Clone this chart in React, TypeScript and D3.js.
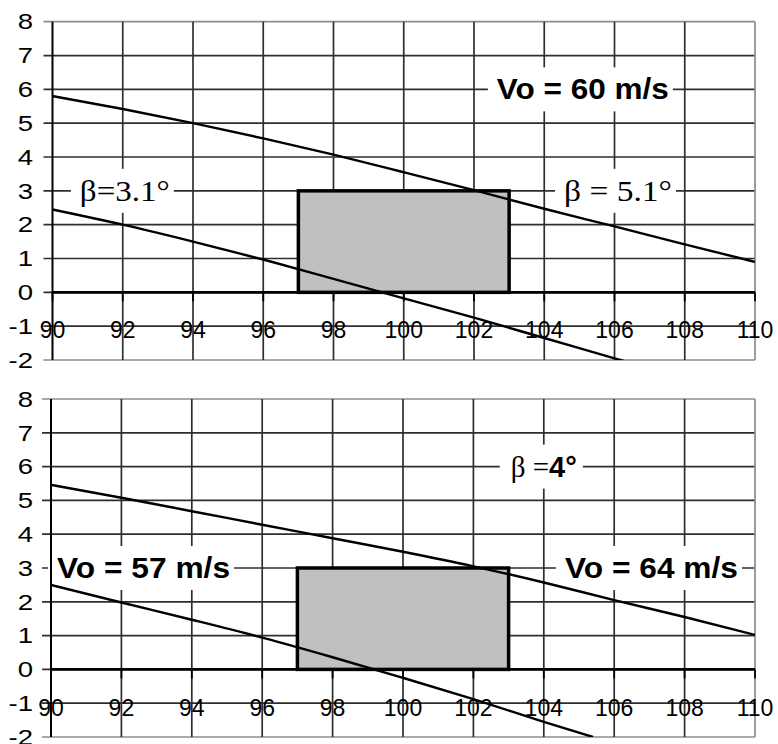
import { useEffect, useRef } from 'react';
import * as d3 from 'd3';

const xTicks = [90, 92, 94, 96, 98, 100, 102, 104, 106, 108, 110];
const yTicks = [-2, -1, 0, 1, 2, 3, 4, 5, 6, 7, 8];

// upper panel (Vo = 60 m/s)
const topUpperX = [90, 92, 94, 96, 98, 100, 102, 104, 106, 108, 110];
const topUpperY = [5.8, 5.42, 5.0, 4.55, 4.07, 3.55, 3.02, 2.47, 1.95, 1.42, 0.9];
const topLowerX = [90, 92, 94, 96, 98, 100, 102, 104, 106, 106.3];
const topLowerY = [2.45, 2.0, 1.5, 0.97, 0.4, -0.18, -0.75, -1.35, -1.95, -2.04];

// lower panel (beta = 4)
const botUpperX = [90, 92, 94, 96, 98, 100, 102, 104, 106, 108, 110];
const botUpperY = [5.46, 5.08, 4.68, 4.28, 3.88, 3.48, 3.05, 2.57, 2.05, 1.55, 1.02];
const botLowerX = [90, 92, 94, 96, 98, 100, 102, 104, 105.4];
const botLowerY = [2.5, 1.98, 1.47, 0.94, 0.36, -0.25, -0.88, -1.55, -2.0];

// target window
const boxX = [97, 103];
const boxY = [0, 3];

type Label = { parts: { t: string; serif: boolean }[]; x: number; y: number; len?: number };

const topLabels: Label[] = [
  { parts: [{ t: 'Vo = 60 m/s', serif: false }], x: 105.1, y: 6, len: 172 },
  { parts: [{ t: 'β = 5.1°', serif: true }], x: 106.1, y: 3, len: 108 },
  { parts: [{ t: 'β=3.1°', serif: true }], x: 92.06, y: 3, len: 90 },
];
const botLabels: Label[] = [
  { parts: [{ t: 'β =', serif: true }, { t: '4°', serif: false }], x: 104.0, y: 6 },
  { parts: [{ t: 'Vo = 64 m/s', serif: false }], x: 107.06, y: 3, len: 173 },
  { parts: [{ t: 'Vo = 57 m/s', serif: false }], x: 92.63, y: 3, len: 173 },
];

const SANS = '"Liberation Sans", Arial, sans-serif';
const SERIF = '"Liberation Serif", "Times New Roman", serif';

type Panel = {
  id: string;
  xRange: [number, number];
  yRange: [number, number];
  series: { xs: number[]; ys: number[] }[];
  labels: Label[];
};

const panels: Panel[] = [
  {
    id: 'top',
    xRange: [52.5, 755],
    yRange: [360, 21.7],
    series: [
      { xs: topUpperX, ys: topUpperY },
      { xs: topLowerX, ys: topLowerY },
    ],
    labels: topLabels,
  },
  {
    id: 'bot',
    xRange: [51, 755],
    yRange: [737, 399],
    series: [
      { xs: botUpperX, ys: botUpperY },
      { xs: botLowerX, ys: botLowerY },
    ],
    labels: botLabels,
  },
];

const App = () => {
  const svgRef = useRef<SVGSVGElement>(null);

  useEffect(() => {
    const svg = d3.select(svgRef.current);
    svg.selectAll('*').remove();

    panels.forEach((p) => {
      const x = d3.scaleLinear().domain([90, 110]).range(p.xRange);
      const y = d3.scaleLinear().domain([-2, 8]).range(p.yRange);
      const g = svg.append('g');

      g.append('clipPath').attr('id', `clip-${p.id}`)
        .append('rect')
        .attr('x', x(90)).attr('y', y(8))
        .attr('width', x(110) - x(90)).attr('height', y(-2) - y(8));

      // grid
      g.append('g').selectAll('line').data(yTicks).join('line')
        .attr('x1', x(90) - 9).attr('x2', x(110))
        .attr('y1', (d) => y(d)).attr('y2', (d) => y(d))
        .attr('stroke', (d) => (d === 8 || d === -2 ? '#8c8c8c' : '#2e2e2e'))
        .attr('stroke-width', 1.7);
      g.append('g').selectAll('line').data(xTicks.slice(1)).join('line')
        .attr('x1', (d) => x(d)).attr('x2', (d) => x(d))
        .attr('y1', y(8)).attr('y2', y(-2))
        .attr('stroke', (d) => (d === 110 ? '#8c8c8c' : '#2e2e2e'))
        .attr('stroke-width', 1.7);

      // label backgrounds
      g.append('g').selectAll('rect').data(p.labels).join('rect')
        .attr('x', (d) => x(d.x) - (d.len ?? 70) / 2 - 9)
        .attr('y', (d) => y(d.y) - 22)
        .attr('width', (d) => (d.len ?? 70) + 13)
        .attr('height', 44)
        .attr('fill', '#fff');

      // window box
      g.append('rect')
        .attr('x', x(boxX[0])).attr('y', y(boxY[1]))
        .attr('width', x(boxX[1]) - x(boxX[0]))
        .attr('height', y(boxY[0]) - y(boxY[1]))
        .attr('fill', '#c0c0c0')
        .attr('stroke', '#000')
        .attr('stroke-width', 3.5);

      // axes
      g.append('line')
        .attr('x1', x(90)).attr('x2', x(90)).attr('y1', y(8)).attr('y2', y(-2))
        .attr('stroke', '#000').attr('stroke-width', 2);
      g.append('line')
        .attr('x1', x(90)).attr('x2', x(110)).attr('y1', y(0)).attr('y2', y(0))
        .attr('stroke', '#000').attr('stroke-width', 2.6);
      g.append('g').selectAll('line').data(xTicks).join('line')
        .attr('x1', (d) => x(d)).attr('x2', (d) => x(d))
        .attr('y1', y(0)).attr('y2', y(0) + 9)
        .attr('stroke', '#000').attr('stroke-width', 1.8);

      // curves
      const line = d3.line<[number, number]>()
        .x((d) => x(d[0])).y((d) => y(d[1]))
        .curve(d3.curveMonotoneX);
      g.append('g').attr('clip-path', `url(#clip-${p.id})`)
        .selectAll('path').data(p.series).join('path')
        .attr('d', (s) => line(s.xs.map((v, i) => [v, s.ys[i]] as [number, number])))
        .attr('fill', 'none')
        .attr('stroke', '#000')
        .attr('stroke-width', 2.4);

      // tick labels
      g.append('g').selectAll('text').data(yTicks).join('text')
        .attr('transform', (d) => `translate(33,${y(d) + 7.7}) scale(1.28,1)`)
        .attr('text-anchor', 'end')
        .style('font-family', SANS)
        .style('font-size', '21.5px')
        .attr('fill', '#000')
        .text((d) => d);
      g.append('g').selectAll('text').data(xTicks).join('text')
        .attr('x', (d) => x(d))
        .attr('y', y(-1) + 12.3)
        .attr('text-anchor', 'middle')
        .style('font-family', SANS)
        .style('font-size', '23px')
        .attr('fill', '#000')
        .text((d) => d);

      // annotations
      p.labels.forEach((l) => {
        const t = g.append('text')
          .attr('x', x(l.x))
          .attr('y', y(l.y) + 10)
          .attr('text-anchor', 'middle')
          .attr('fill', '#000');
        if (l.len) {
          t.attr('textLength', l.len).attr('lengthAdjust', 'spacingAndGlyphs');
        }
        l.parts.forEach((part) => {
          t.append('tspan')
            .style('font-family', part.serif ? SERIF : SANS)
            .style('font-size', '29px')
            .style('font-weight', part.serif ? 'normal' : 'bold')
            .text(part.t);
        });
      });
    });
  }, []);

  return (
    <svg
      ref={svgRef}
      width={778}
      height={744}
      style={{ position: 'absolute', left: 0, top: 0, background: '#fff' }}
    />
  );
};

export default App;
